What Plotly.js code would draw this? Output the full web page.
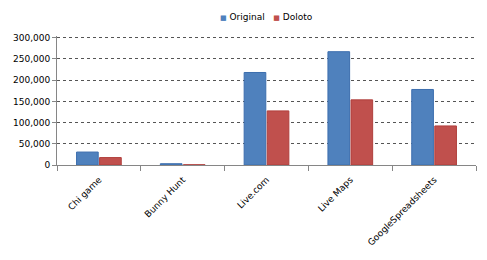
<!DOCTYPE html>
<html><head><meta charset="utf-8">
<script src="https://cdn.plot.ly/plotly-3.0.1.min.js"></script>
<style>html,body{margin:0;padding:0;background:#fff}#c{width:487px;height:260px}</style>
</head><body><div id="c"></div>
<script>
var categories = ["Chi game", "Bunny Hunt", "Live.com", "Live Maps", "GoogleSpreadsheets"];
var original = [30500, 3000, 218000, 267000, 178000];
var doloto = [17500, 500, 127500, 153500, 92000];
var yTicks = [0, 50000, 100000, 150000, 200000, 250000, 300000];
var yTickText = ["0", "50,000", "100,000", "150,000", "200,000", "250,000", "300,000"];
var seriesNames = ["Original", "Doloto"];
var seriesColors = ["#4F81BD", "#C0504D"];

var font = {family: "DejaVu Sans, Verdana, sans-serif", size: 9, color: "#000"};
var data = [
  {type: "bar", name: seriesNames[0], x: categories, y: original, showlegend: false,
   marker: {color: seriesColors[0], line: {color: "#3C6EAE", width: 1}}},
  {type: "bar", name: seriesNames[1], x: categories, y: doloto, showlegend: false,
   marker: {color: seriesColors[1], line: {color: "#B03F3C", width: 1}}}
];
var legendText = seriesNames.map(function(n, i){
  return "<span style='color:" + seriesColors[i] + ";font-size:7px'>■</span> " + n;
}).join("&nbsp;&nbsp;&nbsp;");
var layout = {
  width: 487, height: 260,
  margin: {l: 57, r: 11, t: 36, b: 95},
  paper_bgcolor: "#fff", plot_bgcolor: "#fff",
  font: font,
  barmode: "group", bargap: 0.45, bargroupgap: 0.06,
  showlegend: false,
  annotations: [{xref: "paper", yref: "paper", x: 0.5, y: (165 - 17) / 129, xanchor: "center",
                 yanchor: "middle", showarrow: false, text: legendText, font: font}],
  xaxis: {type: "category", showgrid: false, showline: true, linecolor: "#868686", linewidth: 1,
          ticks: "outside", ticklen: 5, tickcolor: "#868686", tickson: "boundaries",
          tickangle: -45, tickfont: font, ticklabelstandoff: 5, fixedrange: true},
  yaxis: {range: [0, 304000], tickvals: yTicks, ticktext: yTickText, showline: true,
          linecolor: "#868686", linewidth: 1, ticks: "outside", ticklen: 4, tickcolor: "#868686",
          showgrid: true, gridcolor: "#555", griddash: "3px,3px", gridwidth: 1,
          zeroline: false, tickfont: font, fixedrange: true}
};
Plotly.newPlot("c", data, layout, {displayModeBar: false, staticPlot: true});
</script></body></html>
